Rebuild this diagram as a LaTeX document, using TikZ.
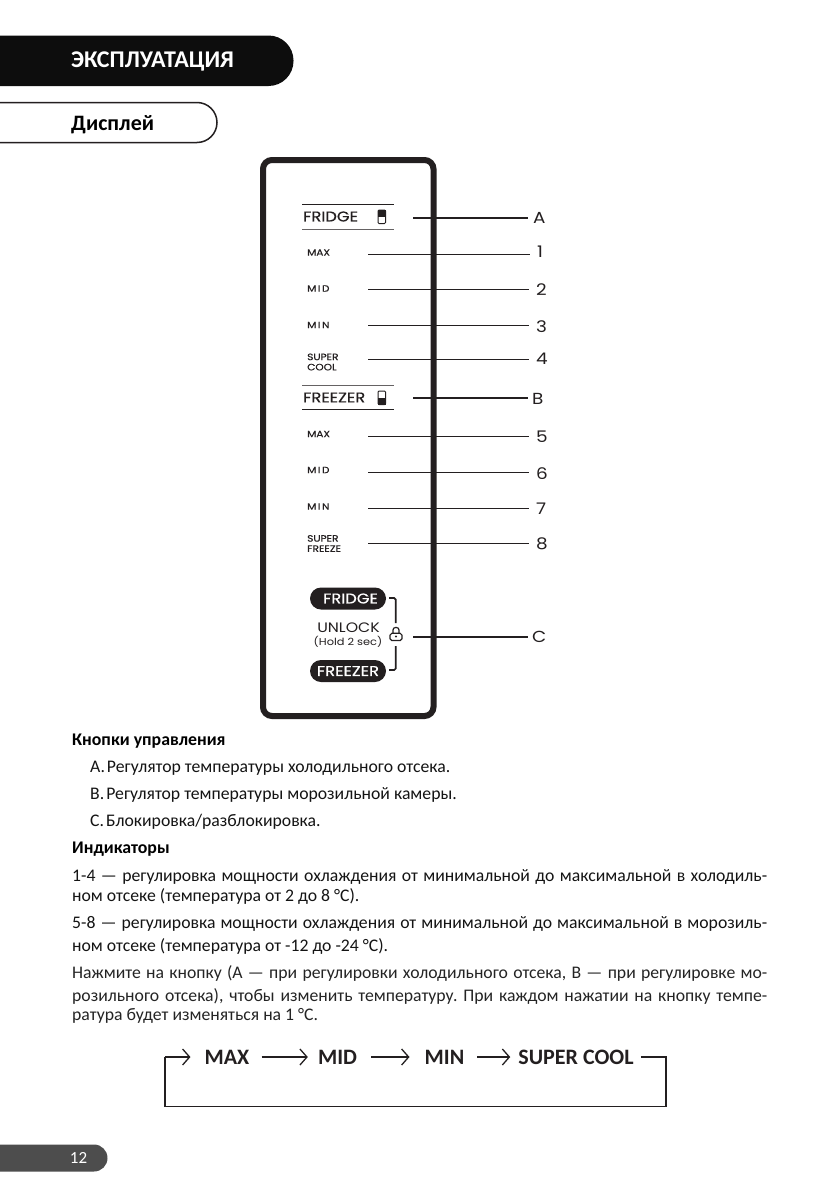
\documentclass[tikz,border=0pt]{standalone}
\usepackage{fontspec}
\usetikzlibrary{arrows.meta,calc}
\setmainfont{Carlito}
\newfontfamily\dispfont[FakeStretch=1.15]{Poppins}
\newfontfamily\dispheavy[FakeStretch=1.15,FakeBold=0.5]{Poppins}
\definecolor{ink}{HTML}{231F20}
\definecolor{pagebar}{HTML}{4D4D4D}
\newcommand{\fs}[1]{\fontsize{#1}{#1}\selectfont}
\newcommand{\jl}[1]{\hbox to 695pt{#1}}
\frenchspacing
\tikzset{
  x=1pt,y=-1pt,
  txt/.style={anchor=base west,inner sep=0pt,text=black!92,font=\fs{17.7}},
  hd/.style={txt,text=black,font=\fs{17.8}\bfseries},
  small/.style={anchor=west,inner sep=0pt,text=ink,font=\dispheavy\fs{9.2}},
  panelhd/.style={anchor=west,inner sep=0pt,text=ink,font=\dispheavy\fs{14.2}},
  lbl/.style={anchor=west,inner sep=0pt,text=ink,font=\dispfont\fs{16}},
  thinc/.style={draw=ink,line width=1pt,shorten >=7pt},
  thickc/.style={draw=ink,line width=2pt,shorten >=5pt},
  pill/.style={draw=none,fill=ink,rounded corners=11pt,minimum width=76pt,minimum height=22pt,inner sep=0pt,text=white,font=\dispheavy\fs{14.2}},
  flow/.style={inner sep=0pt,text=ink,font=\fs{22}\bfseries},
  flowline/.style={draw=ink,line width=1.5pt},
  flowarrow/.style={flowline,-{Straight Barb[length=7pt,width=16pt,line width=1.3pt]}}
}
\begin{document}
\begin{tikzpicture}
\useasboundingbox (0,0) rectangle (839,1191);
\fill[white] (0,0) rectangle (839,1191);
% header bars
\fill[black!95,rounded corners=25pt] (-40,35.5) -- (293.5,35.5) -- (293.5,86) -- (-40,86) -- cycle;
\node[anchor=west,inner sep=0pt,text=white,font=\fs{24}\bfseries] (title) at (71,61) {ЭКСПЛУАТАЦИЯ};
\draw[ink,line width=1.5pt,fill=white,rounded corners=20pt] (-40,102.5) -- (217,102.5) -- (217,142.5) -- (-40,142.5);
\node[anchor=west,inner sep=0pt,text=black,font=\fs{22}\bfseries] (sect) at (71,124.5) {Дисплей};
% panel
\draw[draw=ink,line width=6pt,rounded corners=9pt] (263,160) rectangle (433.5,716);
% fridge header
\draw[ink,line width=.9pt] (302,204.5) -- (394,204.5);
\draw[ink!70,line width=.9pt] (302,229) -- (394,229);
\node[panelhd] (fridge) at (303,216.5) {FRIDGE};
\fill[ink] (377.5,210) rectangle (385.5,217);
\draw[ink,line width=1pt,rounded corners=1pt] (378,210) rectangle (385.5,223.5);
% freezer header
\draw[ink!70,line width=.9pt] (302,385) -- (394,385);
\draw[ink,line width=.9pt] (302,409.5) -- (394,409.5);
\node[panelhd] (freezer) at (303,397.5) {FREEZER};
\fill[ink] (378,398) rectangle (385.5,404.5);
\draw[ink,line width=1pt,rounded corners=1pt] (378,391) rectangle (385.5,404.5);
% small labels
\node[small] (max1) at (307,252.5) {MAX};
\node[small] (mid1) at (307,288.5) {M\,I\,D};
\node[small] (min1) at (307,325) {M\,I\,N};
\node[small,align=left] (sc) at (307,362) {SUPER\\[1pt]COOL};
\node[small] (max2) at (307,434) {MAX};
\node[small] (mid2) at (307,470) {M\,I\,D};
\node[small] (min2) at (307,506.5) {M\,I\,N};
\node[small,align=left] (sf) at (307,543.5) {SUPER\\[1pt]FREEZE};
% right labels
\node[lbl] (A) at (533,217.5) {A};
\node[lbl] (n1) at (537,252) {1};
\node[lbl] (n2) at (536,289.5) {2};
\node[lbl] (n3) at (536,326.5) {3};
\node[lbl] (n4) at (536,359) {4};
\node[lbl] (B) at (532,398.5) {B};
\node[lbl] (n5) at (536,437) {5};
\node[lbl] (n6) at (536,474) {6};
\node[lbl] (n7) at (536,509) {7};
\node[lbl] (n8) at (536,544) {8};
\node[lbl] (C) at (532,637) {C};
% connector starts
\coordinate (sA) at (413,217.5);
\coordinate (s1) at (368,254.5);
\coordinate (s2) at (368,289.5);
\coordinate (s3) at (368,325.5);
\coordinate (s4) at (368,359.5);
\coordinate (sB) at (413,398);
\coordinate (s5) at (368,436);
\coordinate (s6) at (368,472.5);
\coordinate (s7) at (368,508);
\coordinate (s8) at (368,543.5);
\coordinate (sC) at (413,636.5);
\draw[thickc] (sA) -- (sA -| A.west);
\draw[thinc] (s1) -- (s1 -| n1.west);
\draw[thinc] (s2) -- (s2 -| n2.west);
\draw[thinc] (s3) -- (s3 -| n3.west);
\draw[thinc] (s4) -- (s4 -| n4.west);
\draw[thickc,shorten >=4pt] (sB) -- (sB -| B.west);
\draw[thinc] (s5) -- (s5 -| n5.west);
\draw[thinc] (s6) -- (s6 -| n6.west);
\draw[thinc] (s7) -- (s7 -| n7.west);
\draw[thinc] (s8) -- (s8 -| n8.west);
\draw[thickc,shorten >=4pt] (sC) -- (sC -| C.west);
% buttons
\node[pill] (bfr) at (348,598.5) {\hspace{5pt}FRIDGE};
\node[pill] (bfz) at (348,671) {FREEZER};
\node[anchor=center,inner sep=0pt,text=ink,font=\dispfont\fs{13.7}] (ul) at (348.5,628) {UNLOCK};
\node[anchor=center,inner sep=0pt,text=ink,font=\dispfont\fs{9.9}] (hold) at (348,641.5) {(Hold 2 sec)};
% bracket + lock
\draw[ink,line width=1.7pt,rounded corners=1.5pt] (389,598) -- (395.7,598) -- (395.7,623);
\draw[ink,line width=1.7pt,rounded corners=1.5pt] (389,670) -- (395.7,670) -- (395.7,646);
\draw[ink,line width=1.2pt,rounded corners=1.8pt] (390,633.3) rectangle (402,640.5);
\draw[ink,line width=1.2pt,rounded corners=2.5pt] (393,633.3) -- (393,627.5) -- (399,627.5) -- (399,633.3);
\fill[ink] (396,636.5) circle (1.1pt);
% text
\node[hd] (h1) at (72,745.5) {Кнопки управления};
\node[txt] (a) at (90,772.5) {A.\hspace{2pt}Регулятор температуры холодильного отсека.};
\node[txt] (b) at (90,799.5) {B.\hspace{2pt}Регулятор температуры морозильной камеры.};
\node[txt] (c) at (90,826.5) {C.\hspace{2pt}Блокировка/разблокировка.};
\node[hd] (h2) at (72,853.5) {Индикаторы};
\node[txt] (p1a) at (72,881.5) {\jl{1-4 — регулировка мощности охлаждения от минимальной до максимальной в холодиль-}};
\node[txt] (p1b) at (72,901.5) {ном отсеке (температура от 2 до 8 °C).};
\node[txt] (p2a) at (72,928.5) {\jl{5-8 — регулировка мощности охлаждения от минимальной до максимальной в морозиль-}};
\node[txt] (p2b) at (72,951.5) {ном отсеке (температура от -12 до -24 °C).};
\node[txt,text=black!86] (p3a) at (72,978.5) {\jl{Нажмите на кнопку (A — при регулировки холодильного отсека, B — при регулировке мо-}};
\node[txt,text=black!86] (p3b) at (72,1001.5) {\jl{розильного отсека), чтобы изменить температуру. При каждом нажатии на кнопку темпе-}};
\node[txt,text=black!86] (p3c) at (72,1020.5) {ратура будет изменяться на 1 °C.};
% flow
\node[flow] (fmax) at (227,1057) {MAX};
\node[flow] (fmid) at (337.5,1057) {MID};
\node[flow] (fmin) at (444.5,1057) {MIN};
\node[flow] (fsc) at (576,1057) {SUPER COOL};
\coordinate (c1) at (165,1057);
\coordinate (c2) at (666,1057);
\coordinate (c3) at (666,1106.5);
\coordinate (c4) at (165,1106.5);
\draw[flowarrow] ($(fmax.east)+(12,0)$) -- ($(fmid.west)+(-10,0)$);
\draw[flowarrow] ($(fmid.east)+(14,0)$) -- ($(fmin.west)+(-15,0)$);
\draw[flowarrow] ($(fmin.east)+(13,0)$) -- ($(fsc.west)+(-8,0)$);
\draw[flowline] ($(fsc.east)+(7,0)$) -- (c2) -- (c3) -- (c4) -- (c1);
\draw[flowarrow] (c1) -- ($(fmax.west)+(-14,0)$);
% page tab
\fill[pagebar,rounded corners=13.5pt] (-40,1144.5) -- (107.5,1144.5) -- (107.5,1171.5) -- (-40,1171.5) -- cycle;
\node[inner sep=0pt,text=white,font=\fs{17}] (pg) at (78.5,1158) {12};
\end{tikzpicture}
\end{document}
